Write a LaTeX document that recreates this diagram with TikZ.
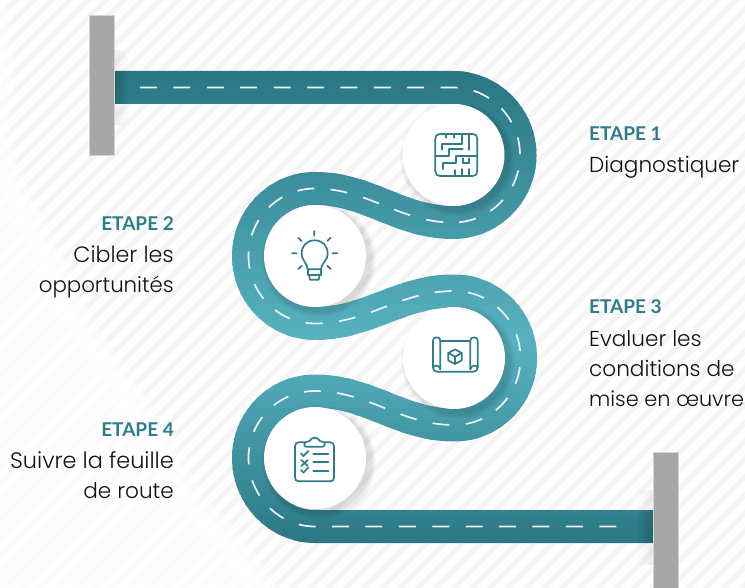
\documentclass[tikz,border=0pt]{standalone}
\usepackage{fontspec}
\setmainfont{Poppins}[UprightFont={* Light},BoldFont={*}]
\newfontfamily\etapefont{Lato}[UprightFont={* Bold}]
\definecolor{roaddark}{HTML}{2A7785}
\definecolor{roadlight}{HTML}{58B2C0}
\definecolor{stripe}{HTML}{F5F5F5}
\definecolor{barfill}{HTML}{A6A6A6}
\definecolor{barline}{HTML}{D4D4D4}
\definecolor{teal}{HTML}{2E7D8A}
\definecolor{inktext}{HTML}{111111}
\tikzset{
  x=1pt,y=-1pt,
  etape/.style={inner sep=0pt,text=teal,font=\etapefont\fontsize{19}{19}\selectfont},
  bodytext/.style={inner sep=0pt,text=inktext,font=\fontsize{#1}{#1}\selectfont},
  bodytext/.default=21.6,
  iconline/.style={draw=teal,line width=1.7pt,line cap=round,line join=round},
  iconbox/.style={x=0.3333pt,y=-0.3333pt},
  bar/.style={fill=barfill,draw=barline,line width=.6pt},
}
\def\roadpath{(114.5,87.5) -- (453,87.5)
  .. controls (490,87.5) and (520,118) .. (520,155)
  .. controls (520,192) and (490,222.5) .. (453,222.5)
  .. controls (400,222.5) and (368,188.5) .. (315,188.5)
  .. controls (278,188.5) and (248.5,219) .. (248.5,256)
  .. controls (248.5,293) and (278,323.5) .. (315,323.5)
  .. controls (368,323.5) and (400,291) .. (454,291)
  .. controls (491,291) and (520.5,321) .. (520.5,358)
  .. controls (520.5,395) and (491,425) .. (454,425)
  .. controls (401,425) and (368,391) .. (315,391)
  .. controls (278,391) and (248.5,421) .. (248.5,458)
  .. controls (248.5,495) and (278,526.5) .. (315,526.5) -- (653,526.5)}
\def\dashpath{(140,87.5) -- (453,87.5)
  .. controls (490,87.5) and (520,118) .. (520,155)
  .. controls (520,192) and (490,222.5) .. (453,222.5)
  .. controls (400,222.5) and (368,188.5) .. (315,188.5)
  .. controls (278,188.5) and (248.5,219) .. (248.5,256)
  .. controls (248.5,293) and (278,323.5) .. (315,323.5)
  .. controls (368,323.5) and (400,291) .. (454,291)
  .. controls (491,291) and (520.5,321) .. (520.5,358)
  .. controls (520.5,395) and (491,425) .. (454,425)
  .. controls (401,425) and (368,391) .. (315,391)
  .. controls (278,391) and (248.5,421) .. (248.5,458)
  .. controls (248.5,495) and (278,526.5) .. (315,526.5) -- (630,526.5)}
\begin{document}
\begin{tikzpicture}
\useasboundingbox (0,0) rectangle (745,588);
\fill[white] (0,0) rectangle (745,588);
% background stripes
\begin{scope}
  \clip (0,0) rectangle (745,588);
  \foreach \s in {0,18,...,1350}
    \draw[stripe,line width=5.5pt] (\s-10,-10) -- (\s-10-600,590);
  % white, soft-edged area on the left
  \foreach \w in {26,18,10,3}
    \filldraw[white,opacity=.35,line width=\w pt,line join=round]
      (-30,-30) -- (-6,-30) -- (2,60) -- (-2,130) -- (6,170) -- (27,212) -- (43,246) -- (57,270) -- (80,322)
      -- (107,362) -- (127,388) -- (140,412) -- (167,445) -- (190,502) -- (217,525) -- (247,562) -- (272,600) -- (-30,600) -- cycle;
\end{scope}
% bar shadows on the background
\foreach \w in {3,6,...,15}{
  \fill[black,opacity=.012] (114,50) rectangle (114+\w,125);
  \fill[black,opacity=.012] (653-\w,490) rectangle (653,565);
}
% road, vertical colour gradient built from bands
\foreach \y in {60,66,...,552}{
  \pgfmathsetmacro{\mixval}{\y<340 ? max(0,min(100,(\y-71)/269*100)) : max(0,min(100,(543-\y)/203*100))}
  \begin{scope}
    \clip (100,\y) rectangle (700,\y+7);
    \draw[roadlight!\mixval!roaddark,line width=33pt] \roadpath;
  \end{scope}
}
% bar shadows on the road
\foreach \w in {3,6,...,15}{
  \fill[black,opacity=.03] (114,71) rectangle (114+\w,104);
  \fill[black,opacity=.03] (653-\w,510) rectangle (653,543);
}
% circle shadows
\foreach \cx/\cy in {453/155,315/256,454/358,315/458}
  \foreach \r in {57,55.5,54,52.5}
    \fill[black,opacity=.03] (\cx+4,\cy+4) circle [radius=\r];
% lane markings
\draw[white!92!roaddark,line width=1.7pt,dash pattern=on 17pt off 16.4pt] \dashpath;
% bars
\draw[bar] (89.5,15) rectangle (114.5,155);
\draw[bar] (653,452) rectangle (678,590);
% step circles
\fill[white] (453.5,155) circle [radius=51];
\fill[white] (315,256) circle [radius=51];
\fill[white] (454,358) circle [radius=51];
\fill[white] (315,458) circle [radius=51];
% icon 1 maze
\begin{scope}[shift={(420,125)},iconbox]
  \draw[iconline] (62,27) -- (148,27) (148,27) -- (158,27) .. controls (167,27) and (172,32) .. (172,41) -- (172,139) .. controls (172,148) and (167,153) .. (158,153) -- (60,153) .. controls (51,153) and (46,148) .. (46,139) -- (46,41) .. controls (46,32) and (51,27) .. (60,27);
  \draw[iconline] (46,92) -- (88,92) -- (88,72) -- (128,72);
  \draw[iconline] (66,74) -- (66,56) -- (100,56) -- (125,56) -- (125,27);
  \draw[iconline] (148,27) -- (148,74);
  \draw[iconline] (78,27) -- (78,38) (101,27) -- (101,38);
  \draw[iconline] (172,92) -- (108,92) -- (108,114) -- (70,114) -- (70,132);
  \draw[iconline] (128,114) -- (148,114) (148,100) -- (148,114) (128,100) -- (128,114);
  \draw[iconline] (104,135) -- (104,153) (127,132) -- (127,153) (148,132) -- (148,153);
\end{scope}
% icon 2 bulb
\begin{scope}[shift={(285,225)},iconbox]
  \draw[iconline] (68,133) .. controls (68,115) and (50,108) .. (50,85) .. controls (50,62) and (66,46) .. (89,46) .. controls (112,46) and (128,62) .. (128,85) .. controls (128,108) and (108,115) .. (108,133) -- cycle;
  \draw[iconline] (68,133) -- (68,150) -- (108,150) -- (108,133);
  \draw[iconline] (72,150) -- (75,164) -- (101,164) -- (104,150);
  \draw[iconline] (88,18) -- (88,32) (40,38) -- (50,48) (137,38) -- (127,48) (21,85) -- (35,85) (143,85) -- (157,85) (40,132) -- (50,122) (137,132) -- (127,122);
\end{scope}
% icon 3 blueprint
\begin{scope}[shift={(425,330)},iconbox]
  \draw[iconline] (46,118) -- (46,32) .. controls (46,25) and (42,22) .. (35,22) .. controls (28,22) and (24,25) .. (24,32) -- (24,113) .. controls (24,120) and (29,125) .. (36,125) -- (146,125) .. controls (153,125) and (158,120) .. (158,113) -- (158,32) .. controls (158,25) and (154,22) .. (147,22) .. controls (140,22) and (136,25) .. (136,32) -- (136,118);
  \draw[iconline] (24,113) .. controls (26,104) and (44,104) .. (46,118);
  \draw[iconline] (158,113) .. controls (156,104) and (138,104) .. (136,118);
  \draw[iconline] (46,33) -- (136,33);
  \draw[iconline] (90,58) -- (110,69) -- (110,91) -- (90,102) -- (70,91) -- (70,69) -- cycle;
  \draw[iconline] (70,69) -- (90,80) -- (110,69) (90,80) -- (90,102);
\end{scope}
% icon 4 clipboard
\begin{scope}[shift={(285,430)},iconbox]
  \draw[iconline] (60,37) -- (42,37) .. controls (34,37) and (30,41) .. (30,49) -- (30,142) .. controls (30,150) and (34,154) .. (42,154) -- (135,154) .. controls (143,154) and (147,150) .. (147,142) -- (147,49) .. controls (147,41) and (143,37) .. (135,37) -- (118,37);
  \draw[iconline] (62,50) -- (114,50) .. controls (120,50) and (122,36) .. (112,35) -- (104,33) .. controls (100,20) and (78,20) .. (74,33) -- (66,35) .. controls (56,36) and (56,50) .. (62,50) -- cycle;
  \draw[iconline] (48,70) -- (55,78) -- (70,63);
  \draw[iconline] (49,90) -- (68,108) (68,90) -- (49,108);
  \draw[iconline] (48,120) -- (55,128) -- (70,113);
  \draw[iconline] (85,72) -- (130,72) (85,97) -- (130,97) (85,123) -- (130,123);
\end{scope}
% labels
\node[etape,anchor=base west] (e1) at (589,141) {ETAPE 1};
\node[bodytext,anchor=base west] (t1) at (589,173) {Diagnostiquer};
\node[etape,anchor=base east] (e2) at (174,231) {ETAPE 2};
\node[bodytext=22.2,anchor=base east] (t2a) at (174,263) {Cibler les};
\node[bodytext=21.3,anchor=base east] (t2b) at (174,293) {opportunités};
\node[etape,anchor=base west] (e3) at (589,314) {ETAPE 3};
\node[bodytext,anchor=base west] (t3a) at (589,346) {Evaluer les};
\node[bodytext,anchor=base west] (t3b) at (589,376) {conditions de};
\node[bodytext=20.8,anchor=base west] (t3c) at (589,406) {mise en œuvre};
\node[etape,anchor=base east] (e4) at (174,436) {ETAPE 4};
\node[bodytext=22.4,anchor=base east] (t4a) at (174,468) {Suivre la feuille};
\node[bodytext,anchor=base east] (t4b) at (174,498) {de route};
\end{tikzpicture}
\end{document}
